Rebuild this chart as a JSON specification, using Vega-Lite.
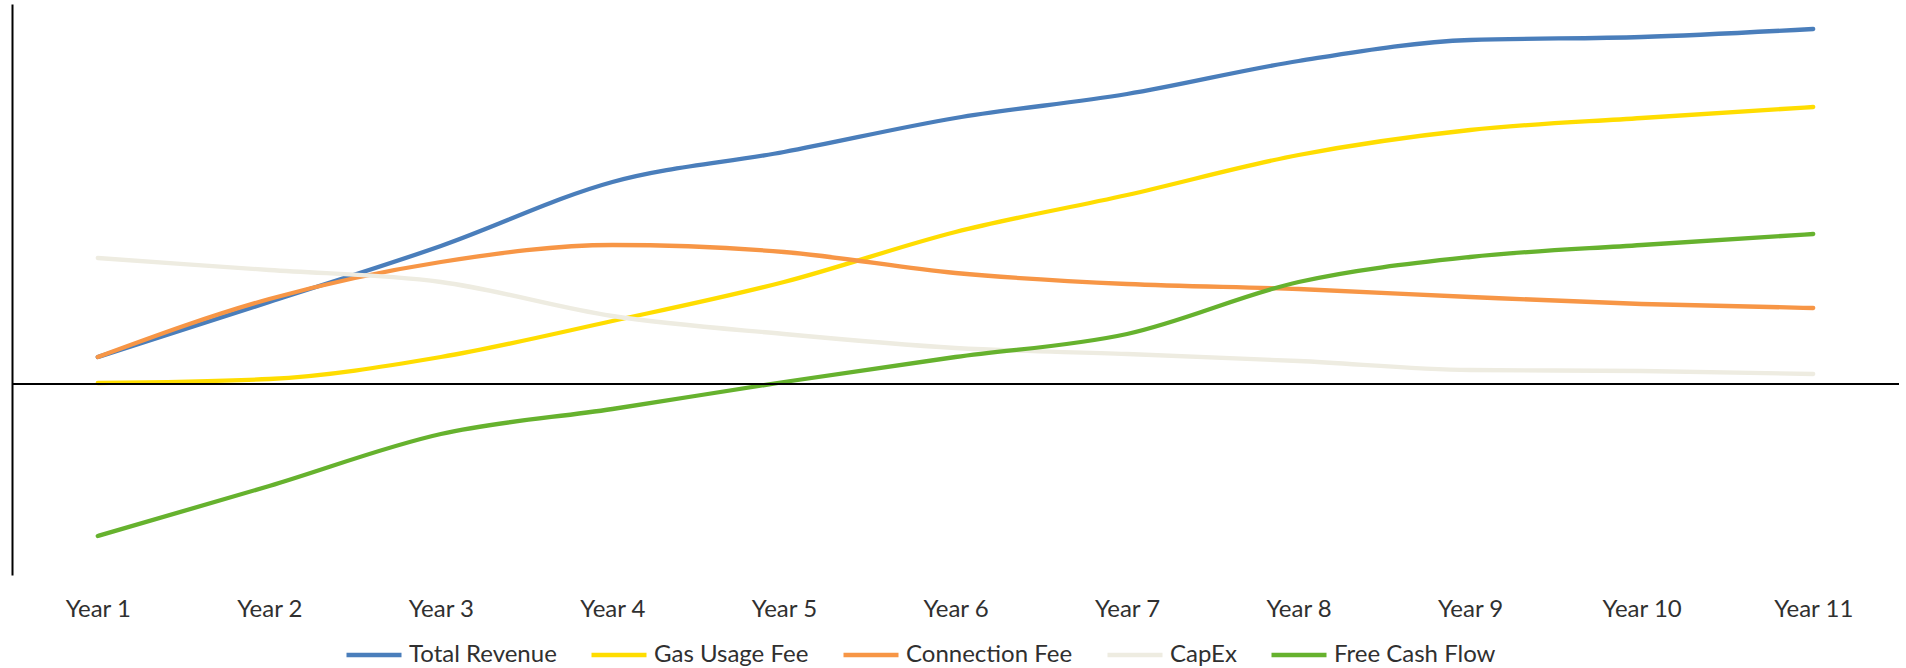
{
  "$schema": "https://vega.github.io/schema/vega-lite/v6.json",
  "width": 1887,
  "height": 571,
  "autosize": {"type": "none"},
  "padding": {"left": 12, "top": 4, "right": 7, "bottom": 93},
  "background": "white",
  "config": {
    "view": {"stroke": null},
    "font": "Lato"
  },
  "data": {
    "values": [
      {"year": "Year 1", "series": "Total Revenue", "value": 27},
      {"year": "Year 2", "series": "Total Revenue", "value": 82},
      {"year": "Year 3", "series": "Total Revenue", "value": 138},
      {"year": "Year 4", "series": "Total Revenue", "value": 202},
      {"year": "Year 5", "series": "Total Revenue", "value": 232},
      {"year": "Year 6", "series": "Total Revenue", "value": 266},
      {"year": "Year 7", "series": "Total Revenue", "value": 290},
      {"year": "Year 8", "series": "Total Revenue", "value": 323},
      {"year": "Year 9", "series": "Total Revenue", "value": 344},
      {"year": "Year 10", "series": "Total Revenue", "value": 347},
      {"year": "Year 11", "series": "Total Revenue", "value": 355},
      {"year": "Year 1", "series": "Gas Usage Fee", "value": 1},
      {"year": "Year 2", "series": "Gas Usage Fee", "value": 5},
      {"year": "Year 3", "series": "Gas Usage Fee", "value": 27},
      {"year": "Year 4", "series": "Gas Usage Fee", "value": 63},
      {"year": "Year 5", "series": "Gas Usage Fee", "value": 102},
      {"year": "Year 6", "series": "Gas Usage Fee", "value": 152},
      {"year": "Year 7", "series": "Gas Usage Fee", "value": 189},
      {"year": "Year 8", "series": "Gas Usage Fee", "value": 229},
      {"year": "Year 9", "series": "Gas Usage Fee", "value": 254},
      {"year": "Year 10", "series": "Gas Usage Fee", "value": 266},
      {"year": "Year 11", "series": "Gas Usage Fee", "value": 277},
      {"year": "Year 1", "series": "Connection Fee", "value": 27},
      {"year": "Year 2", "series": "Connection Fee", "value": 85},
      {"year": "Year 3", "series": "Connection Fee", "value": 122},
      {"year": "Year 4", "series": "Connection Fee", "value": 139},
      {"year": "Year 5", "series": "Connection Fee", "value": 132},
      {"year": "Year 6", "series": "Connection Fee", "value": 111},
      {"year": "Year 7", "series": "Connection Fee", "value": 100},
      {"year": "Year 8", "series": "Connection Fee", "value": 95},
      {"year": "Year 9", "series": "Connection Fee", "value": 87},
      {"year": "Year 10", "series": "Connection Fee", "value": 80},
      {"year": "Year 11", "series": "Connection Fee", "value": 76},
      {"year": "Year 1", "series": "CapEx", "value": 126},
      {"year": "Year 2", "series": "CapEx", "value": 114},
      {"year": "Year 3", "series": "CapEx", "value": 102},
      {"year": "Year 4", "series": "CapEx", "value": 68},
      {"year": "Year 5", "series": "CapEx", "value": 50},
      {"year": "Year 6", "series": "CapEx", "value": 36},
      {"year": "Year 7", "series": "CapEx", "value": 30},
      {"year": "Year 8", "series": "CapEx", "value": 23},
      {"year": "Year 9", "series": "CapEx", "value": 14},
      {"year": "Year 10", "series": "CapEx", "value": 13},
      {"year": "Year 11", "series": "CapEx", "value": 10},
      {"year": "Year 1", "series": "Free Cash Flow", "value": -152},
      {"year": "Year 2", "series": "Free Cash Flow", "value": -102},
      {"year": "Year 3", "series": "Free Cash Flow", "value": -50},
      {"year": "Year 4", "series": "Free Cash Flow", "value": -25},
      {"year": "Year 5", "series": "Free Cash Flow", "value": 2},
      {"year": "Year 6", "series": "Free Cash Flow", "value": 27},
      {"year": "Year 7", "series": "Free Cash Flow", "value": 50},
      {"year": "Year 8", "series": "Free Cash Flow", "value": 102},
      {"year": "Year 9", "series": "Free Cash Flow", "value": 127},
      {"year": "Year 10", "series": "Free Cash Flow", "value": 139},
      {"year": "Year 11", "series": "Free Cash Flow", "value": 150}
    ]
  },
  "encoding": {
    "x": {
      "field": "year",
      "type": "ordinal",
      "sort": null,
      "scale": {"type": "point", "padding": 0.5},
      "axis": {
        "title": null,
        "domain": false,
        "ticks": false,
        "labelAngle": 0,
        "labelFont": "Lato",
        "labelFontSize": 24,
        "labelColor": "#303030",
        "labelBaseline": "alphabetic",
        "labelPadding": 41
      }
    },
    "y": {
      "field": "value",
      "type": "quantitative",
      "scale": {"domain": [-191, 380], "nice": false, "zero": false},
      "axis": {
        "title": null,
        "labels": false,
        "ticks": false,
        "grid": false,
        "domainColor": "#000000",
        "domainWidth": 2
      }
    }
  },
  "layer": [
    {
      "mark": {"type": "line", "interpolate": "monotone", "strokeWidth": 4.3, "strokeCap": "round"},
      "encoding": {
        "color": {
          "field": "series",
          "type": "nominal",
          "sort": ["Total Revenue", "Gas Usage Fee", "Connection Fee", "CapEx", "Free Cash Flow"],
          "scale": {
            "domain": ["Total Revenue", "Gas Usage Fee", "Connection Fee", "CapEx", "Free Cash Flow"],
            "range": ["#4a7ebb", "#ffdd00", "#f79646", "#eeece1", "#66b22e"]
          },
          "legend": {
            "title": null,
            "orient": "none",
            "direction": "horizontal",
            "legendX": 332,
            "legendY": 621,
            "padding": 0,
            "symbolType": "stroke",
            "symbolSize": 3025,
            "symbolStrokeWidth": 4.5,
            "labelFont": "Lato",
            "labelFontSize": 24,
            "labelColor": "#303030",
            "labelOffset": 5,
            "columnPadding": 25,
            "labelLimit": 400
          }
        }
      }
    },
    {
      "mark": {"type": "rule", "color": "#000000", "strokeWidth": 2},
      "encoding": {"y": {"datum": 0}, "x": null}
    }
  ]
}
